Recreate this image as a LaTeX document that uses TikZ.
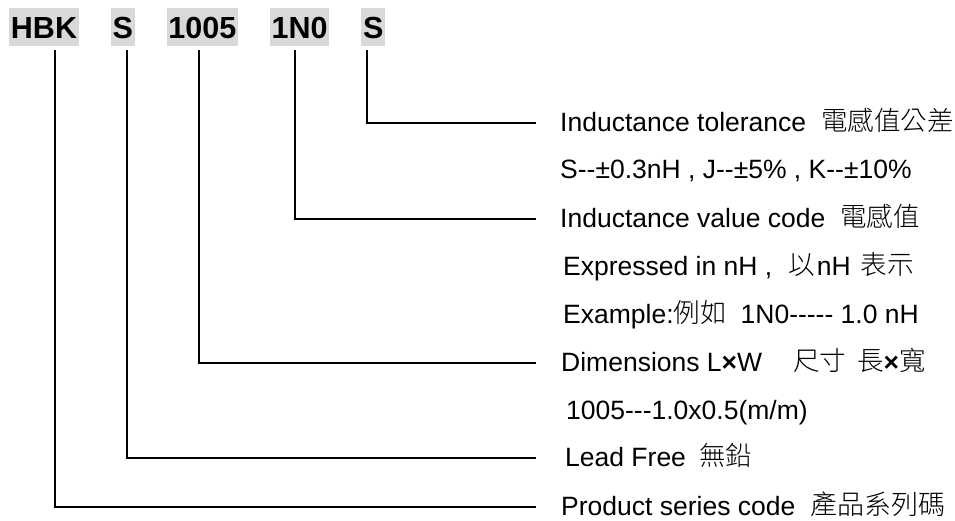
\documentclass[tikz,border=0pt]{standalone}
\usepackage{fontspec}
\setmainfont{Liberation Sans}
\newfontfamily\cjk{Noto Sans CJK TC}[UprightFont={* Light}]
\newcommand\zh[1]{\raisebox{1.5pt}{\cjk #1}}
\usetikzlibrary{positioning}
\tikzset{
  code/.style={fill=black!15, font=\fontsize{30.5}{36}\selectfont\bfseries,
    inner xsep=1.8pt, inner ysep=0pt, minimum height=38pt,
    text height=22pt, text depth=0pt},
  desc/.style={anchor=west, inner sep=0pt, font=\fontsize{26.5}{31}\selectfont,
    text height=17.5pt, text depth=0pt},
  leg/.style={line width=1.3pt}
}
\begin{document}
\begin{tikzpicture}[x=1pt, y=-1pt]
  \useasboundingbox (0,0) rectangle (955,520);

  \node [code] (hbk) at (44,27) {HBK};
  \node [code, right=31.5pt of hbk] (lf) {S};
  \node [code, right=31.5pt of lf] (size) {1005};
  \node [code, right=31.5pt of size] (ind) {1N0};
  \node [code, right=31.5pt of ind] (tolc) {S};

  \coordinate (hbk-top) at (55,50);
  \coordinate (lf-top) at (127,50);
  \coordinate (size-top) at (199,50);
  \coordinate (ind-top) at (295,50);
  \coordinate (tolc-top) at (367,50);
  \coordinate (rail) at (536,0);

  \node [desc] (tol) at (560,123) {Inductance tolerance\hspace{15pt}\zh{電感值公差}};
  \node [desc] (tolx) at (560,170) {S-{}-±0.3nH , J-{}-±5\% , K-{}-±10\%};
  \node [desc] (val) at (560,219) {Inductance value code\hspace{15pt}\zh{電感值}};
  \node [desc] (valx) at (563,267) {Expressed in nH ,\hspace{16pt}\zh{以}\hspace{2pt}nH\hspace{10pt}\zh{表示}};
  \node [desc] (valex) at (563,315) {Example:\zh{例如}\hspace{14pt}1N0-{}-{}-{}-{}- 1.0 nH};
  \node [desc] (dim) at (561,363) {Dimensions L\textbf{×}W\hspace{31pt}\zh{尺寸}\hspace{11pt}\zh{長}\textbf{×}\zh{寬}};
  \node [desc] (dimx) at (566,411) {1005-{}-{}-1.0x0.5(m/m)};
  \node [desc] (lead) at (565,458) {Lead Free\hspace{13pt}\zh{無鉛}};
  \node [desc] (prod) at (561,507) {Product series code\hspace{15pt}\zh{\fontsize{27}{31}\selectfont 產品系列碼}};

  \draw [leg] (tolc-top) |- (rail |- tol.west);
  \draw [leg] (ind-top) |- (rail |- val.west);
  \draw [leg] (size-top) |- (rail |- dim.west);
  \draw [leg] (lf-top) |- (rail |- lead.west);
  \draw [leg] (hbk-top) |- (rail |- prod.west);
\end{tikzpicture}
\end{document}
